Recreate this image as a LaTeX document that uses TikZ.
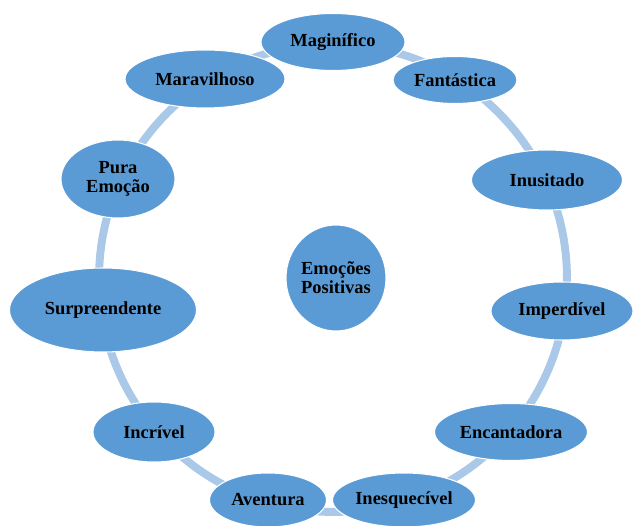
\documentclass[tikz,border=0pt]{standalone}
\usepackage{fontspec}
\setmainfont{Liberation Serif}
\usepackage{tikz}
\usetikzlibrary{shapes.geometric}
\definecolor{bubbleblue}{RGB}{91,155,213}
\definecolor{ringblue}{RGB}{170,200,231}
\tikzset{
	bubble/.style={ellipse, fill=bubbleblue, draw=white, line width=0.6pt, inner sep=0pt, align=center, font=\fontsize{10.5}{11}\selectfont\bfseries},
	ring/.style={draw=ringblue, line width=4.5pt}
}

\begin{document}
\begin{tikzpicture}[x=0.02cm, y=-0.02cm]
		%%%%% START %%%%%
		\useasboundingbox (0, 0) rectangle (633, 526);
		
		\coordinate (ringc) at (333, 278);
		\draw[ring] (ringc) circle (4.68cm);
		
		\node[bubble, minimum width=2.0cm, minimum height=2.12cm] (emo) at (336, 278) {Emoções\\Positivas};
		
		\node[bubble, minimum width=2.88cm, minimum height=1.14cm] (mag) at (333, 42) {Maginífico};
		\node[bubble, minimum width=2.48cm, minimum height=0.94cm] (fan) at (455, 80) {Fantástica};
		\node[bubble, minimum width=3.02cm, minimum height=1.2cm] (inu) at (547, 180) {Inusitado};
		\node[bubble, minimum width=2.84cm, minimum height=1.16cm] (imp) at (562, 311) {Imperdível};
		\node[bubble, minimum width=3.06cm, minimum height=1.14cm] (enc) at (511, 432) {Encantadora};
		\node[bubble, minimum width=2.86cm, minimum height=1.08cm] (ine) at (404, 500) {Inesquecível};
		\node[bubble, minimum width=2.34cm, minimum height=1.08cm] (ave) at (268, 500) {Aventura};
		\node[bubble, minimum width=2.44cm, minimum height=1.2cm] (inc) at (154, 432) {Incrível};
		\node[bubble, minimum width=3.74cm, minimum height=1.68cm] (sur) at (103, 310) {Surpreendente};
		\node[bubble, minimum width=2.28cm, minimum height=1.56cm] (pura) at (118, 179) {Pura\\Emoção};
		\node[bubble, minimum width=3.2cm, minimum height=1.16cm] (mar) at (205, 79) {Maravilhoso};
		
		%%%%% END %%%%%
\end{tikzpicture}
\end{document}
